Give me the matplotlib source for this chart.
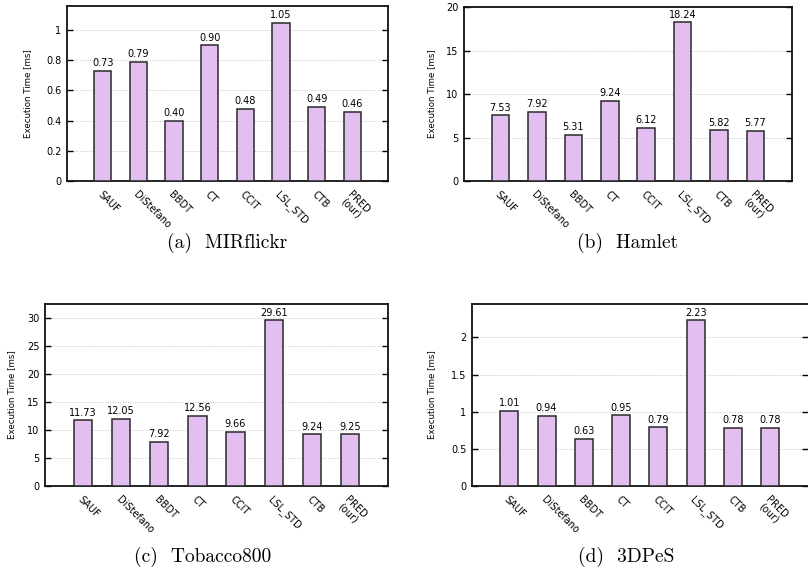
import matplotlib
matplotlib.use('Agg')
from matplotlib import pyplot as plt

methods = ['SAUF', 'DiStefano', 'BBDT', 'CT', 'CCIT', 'LSL_STD', 'CTB', 'PRED\n(our)']

mirflickr = [0.73, 0.79, 0.40, 0.90, 0.48, 1.05, 0.49, 0.46]
hamlet = [7.53, 7.92, 5.31, 9.24, 6.12, 18.24, 5.82, 5.77]
tobacco = [11.73, 12.05, 7.92, 12.56, 9.66, 29.61, 9.24, 9.25]
pes = [1.01, 0.94, 0.63, 0.95, 0.79, 2.23, 0.78, 0.78]

captions = ['(a)  MIRflickr', '(b)  Hamlet', '(c)  Tobacco800', '(d)  3DPeS']
yticks_a = [0, 0.2, 0.4, 0.6, 0.8, 1]
yticks_b = [0, 5, 10, 15, 20]
yticks_c = [0, 5, 10, 15, 20, 25, 30]
yticks_d = [0, 0.5, 1, 1.5, 2]
ytl_a = ['0', '0.2', '0.4', '0.6', '0.8', '1']
ytl_d = ['0', '0.5', '1', '1.5', '2']

W, H = 808, 568
fig = plt.figure(figsize=(W / 100, H / 100), dpi=100)

def box(l, r, t, b):
    return [l / W, 1 - b / H, (r - l) / W, (b - t) / H]

# (axes box, values, ymax, yticks, yticklabels, ylabel x, caption centre, right spine)
panels = [
    (box(67, 388, 6, 181), mirflickr, 1.16, yticks_a, ytl_a, 28, (227, 243), True),
    (box(464, 792, 7, 181), hamlet, 20, yticks_b, None, 432, (628, 243), True),
    (box(45, 388, 304, 486), tobacco, 32.55, yticks_c, None, 12, (203, 557), True),
    (box(472, 807.5, 304, 486), pes, 2.45, yticks_d, ytl_d, 432, (626, 557), False),
]

for (rect, vals, ymax, yt, ytl, ylx, cap, right), c in zip(panels, captions):
    ax = fig.add_axes(rect)
    x = list(range(len(methods)))
    ax.bar(x, vals, width=0.48, color='#e2bff0', edgecolor='#2a2a2a', linewidth=1.1, zorder=3)
    for xi, v in zip(x, vals):
        ax.text(xi, v + ymax * 0.015, '%.2f' % v, ha='center', va='bottom', fontsize=7, zorder=4)
    ax.set_xlim(-1, 8)
    ax.set_ylim(0, ymax)
    ax.set_yticks(yt)
    if ytl is not None:
        ax.set_yticklabels(ytl)
    ax.yaxis.grid(True, linestyle=(0, (1, 2)), color='#b0b0b0', linewidth=0.6, zorder=0)
    ax.tick_params(axis='y', direction='in', length=4, width=1, labelsize=7, right=True, pad=4)
    ax.set_xticks(x)
    ax.set_xticklabels(methods, rotation=-45, ha='left', va='top', rotation_mode='anchor',
                       fontsize=7, linespacing=0.95)
    ax.tick_params(axis='x', length=0, pad=6)
    for s in ax.spines.values():
        s.set_linewidth(1.3)
        s.set_color('#111111')
    if not right:
        ax.spines['right'].set_visible(False)
    ymid = rect[1] + rect[3] / 2
    fig.text(ylx / W, ymid, 'Execution Time [ms]', rotation=90, ha='center', va='center', fontsize=6.2)
    fig.text(cap[0] / W, 1 - cap[1] / H, c, ha='center', va='center', fontsize=14, family='cmr10')

fig.savefig('out.png', dpi=100)
